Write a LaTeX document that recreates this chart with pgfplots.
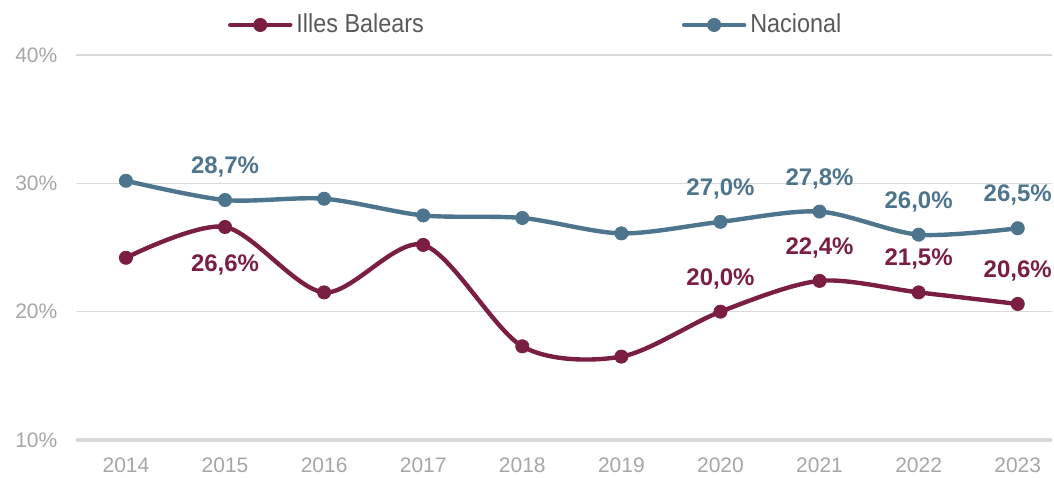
\documentclass[border=0pt]{standalone}
\usepackage{pgfplots}
\pgfplotsset{compat=1.18}
\usepackage{fontspec}
\setmainfont{Liberation Sans}
\newfontfamily\narrowfont[FakeStretch=0.9]{Liberation Sans}
\definecolor{balears}{RGB}{122,31,67}
\definecolor{nacional}{RGB}{78,117,142}
\definecolor{tickgray}{RGB}{166,166,166}
\definecolor{gridgray}{RGB}{217,217,217}
\definecolor{legtext}{RGB}{89,89,89}

\begin{document}
\begin{tikzpicture}
\useasboundingbox (0,0) rectangle (527pt,238.5pt);
\begin{axis}[
	at={(38.2pt,18.5pt)}, anchor=south west,
	scale only axis, width=488pt, height=192.5pt,
	xmin=-0.5, xmax=9.35, ymin=10, ymax=40,
	clip=false,
	axis line style={draw=none},
	major tick length=0pt,
	xtick={0,...,9},
	xticklabels={2014,2015,2016,2017,2018,2019,2020,2021,2022,2023},
	ytick={20,30,40}, yticklabels={20\%,30\%,40\%},
	extra y ticks={10}, extra y tick labels={10\%},
	extra y tick style={grid style={gridgray, line width=2pt}},
	ymajorgrids,
	grid style={gridgray, line width=0.6pt},
	tick label style={font=\fontsize{10.5}{12}\selectfont, text=tickgray},
	yticklabel style={xshift=-6pt},
	xticklabel style={yshift=-5.5pt},
	legend style={at={(0.155,1.078)}, anchor=west, draw=none, fill=none,
		legend columns=2, inner sep=0pt,
		font=\narrowfont\fontsize{13}{15}\selectfont, text=legtext,
		/tikz/every even column/.append style={column sep=127pt},
		/tikz/every odd column/.append style={column sep=0pt}},
	legend image code/.code={
		\draw[#1, line cap=round, mark=none] (0pt,0pt) -- (30pt,0pt);
		\draw[#1, only marks] plot coordinates {(15pt,0pt)};
	},
]

% Illes Balears
\addplot[balears, line width=2.2pt, smooth, tension=0.5, mark=*,
	mark size=3.3pt, mark options={line width=0.4pt, fill=balears}] coordinates {
	(0,24.2) (1,26.6) (2,21.5) (3,25.2) (4,17.3)
	(5,16.5) (6,20.0) (7,22.4) (8,21.5) (9,20.6)
};
\addlegendentry{Illes Balears}

% Nacional
\addplot[nacional, line width=2.2pt, smooth, tension=0.5, mark=*,
	mark size=3.3pt, mark options={line width=0.4pt, fill=nacional}] coordinates {
	(0,30.2) (1,28.7) (2,28.8) (3,27.5) (4,27.3)
	(5,26.1) (6,27.0) (7,27.8) (8,26.0) (9,26.5)
};
\addlegendentry{Nacional}

% data labels
\addplot[draw=none, forget plot, nodes near coords, point meta=explicit symbolic,
	nodes near coords style={font=\bfseries\fontsize{12}{14}\selectfont,
		text=balears, anchor=center, yshift=16.5pt}] coordinates {
	(6,20.0) [20,0\%] (7,22.4) [22,4\%] (8,21.5) [21,5\%] (9,20.6) [20,6\%]
};
\addplot[draw=none, forget plot, nodes near coords, point meta=explicit symbolic,
	nodes near coords style={font=\bfseries\fontsize{12}{14}\selectfont,
		text=balears, anchor=center, yshift=-19pt}] coordinates {
	(1,26.6) [26,6\%]
};
\addplot[draw=none, forget plot, nodes near coords, point meta=explicit symbolic,
	nodes near coords style={font=\bfseries\fontsize{12}{14}\selectfont,
		text=nacional, anchor=center, yshift=16.5pt}] coordinates {
	(1,28.7) [28,7\%] (6,27.0) [27,0\%] (7,27.8) [27,8\%] (8,26.0) [26,0\%] (9,26.5) [26,5\%]
};
\end{axis}
\end{tikzpicture}
\end{document}
